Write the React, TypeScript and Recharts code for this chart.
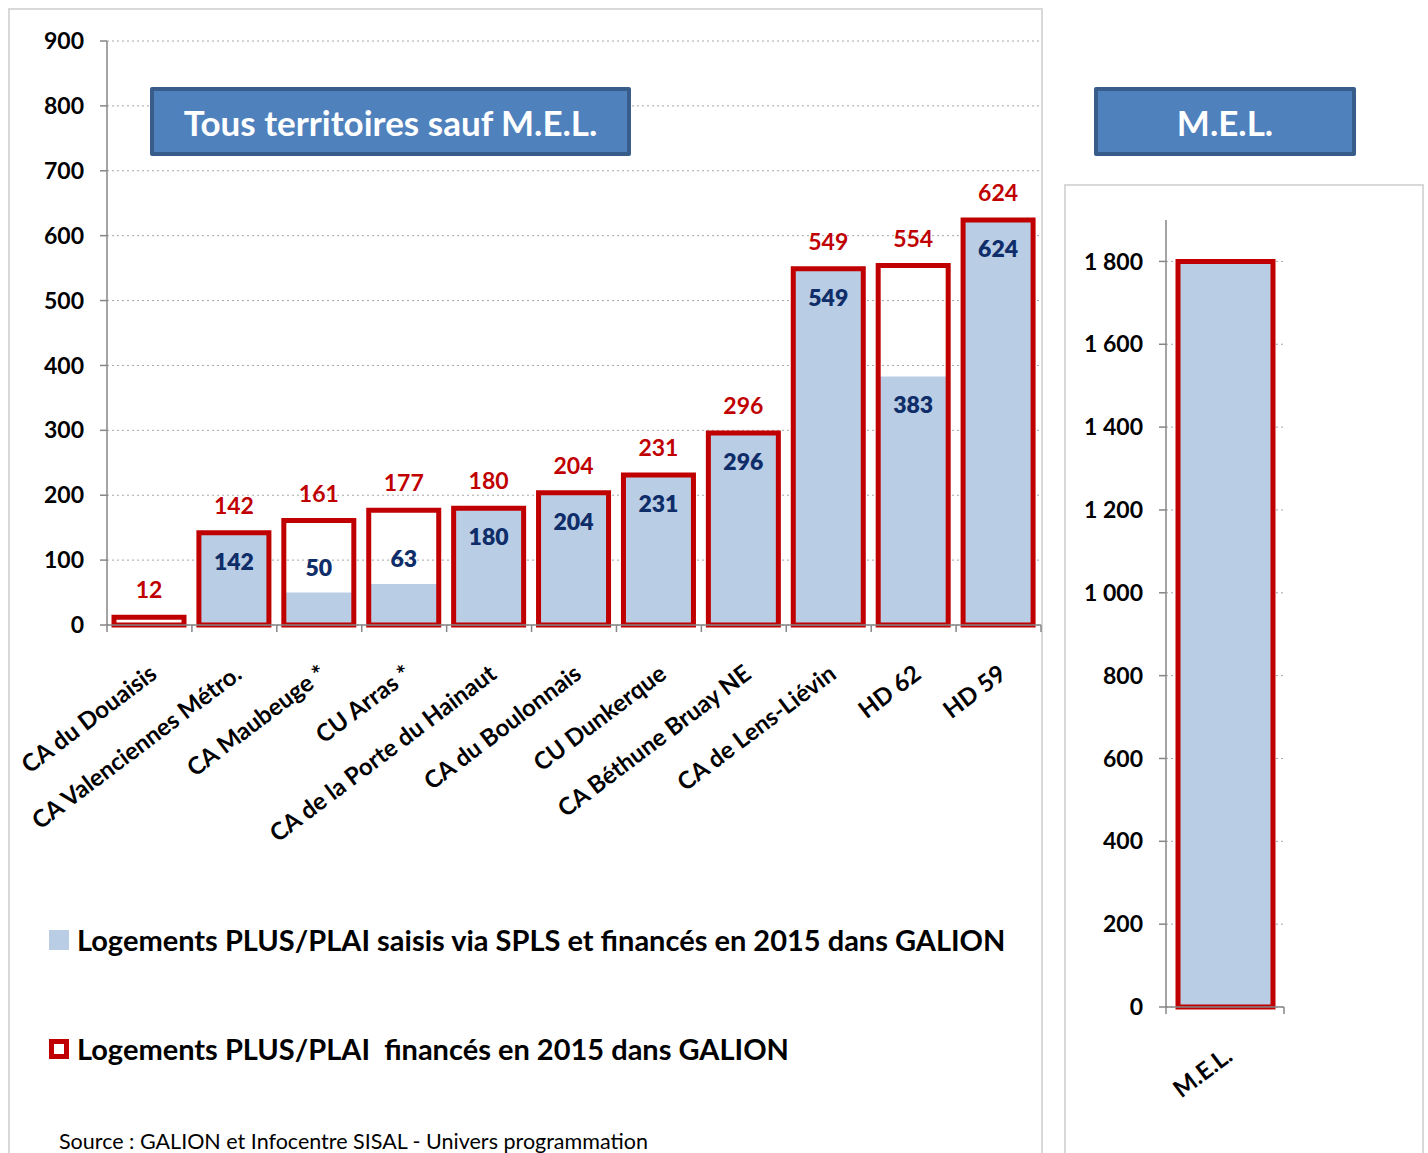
import React from "react";
import { BarChart, Bar, XAxis, YAxis, CartesianGrid, LabelList } from "recharts";

const categories = [
  "CA du Douaisis",
  "CA Valenciennes Métro.",
  "CA Maubeuge *",
  "CU Arras *",
  "CA de la Porte du Hainaut",
  "CA du Boulonnais",
  "CU Dunkerque",
  "CA Béthune Bruay NE",
  "CA de Lens-Liévin",
  "HD 62",
  "HD 59",
];
const financed = [12, 142, 161, 177, 180, 204, 231, 296, 549, 554, 624];
const viaSpls: (number | null)[] = [null, 142, 50, 63, 180, 204, 231, 296, 549, 383, 624];
const leftTicks = [0, 100, 200, 300, 400, 500, 600, 700, 800, 900];

const melCategories = ["M.E.L."];
const melFinanced = [1800];
const melSpls = [1800];
const rightTicks = [0, 200, 400, 600, 800, 1000, 1200, 1400, 1600, 1800];

const legendSpls = "Logements PLUS/PLAI saisis via SPLS et financés en 2015 dans GALION";
const legendFin = "Logements PLUS/PLAI  financés en 2015 dans GALION";
const sourceText = "Source : GALION et Infocentre SISAL - Univers programmation";

const leftData = categories.map((c, i) => ({ name: c, total: financed[i], spls: viaSpls[i] }));
const rightData = melCategories.map((c, i) => ({ name: c, total: melFinanced[i], spls: melSpls[i] }));

const FONT = "Lato, 'Open Sans', sans-serif";
const RED = "#C00000";
const BLUE = "#B9CDE5";
const NAVY = "#0F2D69";
const AXIS = "#868686";

const fmt = (v: number) => String(v).replace(/\B(?=(\d{3})+(?!\d))/g, " ");

const CatTick = (props: any) => {
  const { x, y, payload, index, visibleTicksCount } = props;
  const off = payload && payload.offset ? payload.offset : 42;
  const last = index === visibleTicksCount - 1;
  return (
    <g>
      <line x1={x - off} x2={x - off} y1={y} y2={y + 7} stroke={AXIS} strokeWidth={1.5} />
      {last && <line x1={x + off} x2={x + off} y1={y} y2={y + 7} stroke={AXIS} strokeWidth={1.5} />}
      <text
        x={x + 9}
        y={y + 52}
        transform={`rotate(-37, ${x + 9}, ${y + 52})`}
        textAnchor="end"
        fontFamily={FONT}
        fontWeight={700}
        fontSize={24}
        fill="#000"
      >
        {payload.value}
      </text>
    </g>
  );
};

const SplsLabel = (props: any) => {
  const { x, y, width, height, value } = props;
  if (value == null) return null;
  const cx = x + width / 2;
  const cy = height < 60 ? y - 26 : y + 28;
  return (
    <text
      x={cx}
      y={cy}
      textAnchor="middle"
      dominantBaseline="central"
      fill={NAVY}
      fontFamily={FONT}
      fontWeight={800}
      fontSize={23}
    >
      {value}
    </text>
  );
};

const Box = ({ left, top, width, height, text }: any) => (
  <div
    style={{
      position: "absolute",
      left,
      top,
      width,
      height,
      boxSizing: "border-box",
      background: "#4F81BD",
      border: "4px solid #385D8A",
      borderRadius: 2,
      color: "#fff",
      fontFamily: FONT,
      fontWeight: 700,
      fontSize: 35,
      display: "flex",
      alignItems: "center",
      justifyContent: "center",
      zIndex: 3,
    }}
  >
    {text}
  </div>
);

export default function App() {
  return (
    <div
      style={{
        position: "absolute",
        left: 0,
        top: 0,
        width: 1428,
        height: 1153,
        background: "#fff",
        overflow: "hidden",
        fontFamily: FONT,
      }}
    >
      <div
        style={{
          position: "absolute",
          left: 8,
          top: 8,
          width: 1035,
          height: 1160,
          border: "2px solid #D9D9D9",
          boxSizing: "border-box",
        }}
      />
      <div
        style={{
          position: "absolute",
          left: 1064,
          top: 184,
          width: 360,
          height: 1000,
          border: "2px solid #D9D9D9",
          boxSizing: "border-box",
        }}
      />

      <div style={{ position: "absolute", left: 0, top: 0, zIndex: 2 }}>
        <BarChart
          width={1043}
          height={900}
          data={leftData}
          margin={{ top: 41, right: 2, left: 0, bottom: 0 }}
          barSize={70}
          barGap={-70}
        >
          <CartesianGrid vertical={false} stroke="#A6A6A6" strokeDasharray="2 3" syncWithTicks />
          <YAxis
            width={107}
            domain={[0, 900]}
            ticks={leftTicks}
            interval={0}
            axisLine={{ stroke: AXIS, strokeWidth: 1.5 }}
            tickLine={{ stroke: AXIS, strokeWidth: 1.5 }}
            tickSize={7}
            tickMargin={16}
            tick={{ fontFamily: FONT, fontWeight: 700, fontSize: 23, fill: "#000" }}
          />
          <XAxis
            dataKey="name"
            height={275}
            interval={0}
            tickLine={false}
            tickSize={0}
            tickMargin={0}
            axisLine={{ stroke: AXIS, strokeWidth: 1.5 }}
            tick={<CatTick />}
          />
          <Bar dataKey="spls" fill={BLUE} isAnimationActive={false}>
            <LabelList dataKey="spls" content={<SplsLabel />} />
          </Bar>
          <Bar dataKey="total" fill="none" stroke={RED} strokeWidth={5} isAnimationActive={false}>
            <LabelList
              dataKey="total"
              position="top"
              offset={19}
              fill={RED}
              fontFamily={FONT}
              fontWeight={700}
              fontSize={23}
            />
          </Bar>
        </BarChart>
      </div>

      <div style={{ position: "absolute", left: 1064, top: 184, zIndex: 2 }}>
        <BarChart
          width={222}
          height={969}
          data={rightData}
          margin={{ top: 36, right: 2, left: 0, bottom: 0 }}
          barSize={95}
          barGap={-95}
        >
          <CartesianGrid vertical={false} stroke="#A6A6A6" strokeDasharray="2 3" syncWithTicks />
          <YAxis
            width={102}
            domain={[0, 1900]}
            ticks={rightTicks}
            interval={0}
            axisLine={{ stroke: AXIS, strokeWidth: 1.5 }}
            tickLine={{ stroke: AXIS, strokeWidth: 1.5 }}
            tickSize={7}
            tickMargin={16}
            tickFormatter={fmt}
            tick={{ fontFamily: FONT, fontWeight: 700, fontSize: 23, fill: "#000" }}
          />
          <XAxis
            dataKey="name"
            height={146}
            interval={0}
            tickLine={false}
            tickSize={0}
            tickMargin={0}
            axisLine={{ stroke: AXIS, strokeWidth: 1.5 }}
            tick={<CatTick />}
          />
          <Bar dataKey="spls" fill={BLUE} isAnimationActive={false} />
          <Bar dataKey="total" fill="none" stroke={RED} strokeWidth={5} isAnimationActive={false} />
        </BarChart>
      </div>

      <Box left={150} top={87} width={481} height={69} text="Tous territoires sauf M.E.L." />
      <Box left={1094} top={87} width={262} height={69} text="M.E.L." />

      <div style={{ position: "absolute", left: 49, top: 922, display: "flex", alignItems: "center", zIndex: 3 }}>
        <div style={{ width: 20, height: 20, background: BLUE, marginRight: 8 }} />
        <span style={{ fontFamily: FONT, fontWeight: 700, fontSize: 29, color: "#000" }}>{legendSpls}</span>
      </div>
      <div style={{ position: "absolute", left: 49, top: 1031, display: "flex", alignItems: "center", zIndex: 3 }}>
        <div
          style={{
            width: 20,
            height: 20,
            boxSizing: "border-box",
            border: `5px solid ${RED}`,
            background: "#fff",
            marginRight: 8,
          }}
        />
        <span style={{ fontFamily: FONT, fontWeight: 700, fontSize: 29, color: "#000", whiteSpace: "pre" }}>
          {legendFin}
        </span>
      </div>
      <div
        style={{
          position: "absolute",
          left: 59,
          top: 1128,
          fontFamily: FONT,
          fontSize: 21.5,
          color: "#000",
          zIndex: 3,
        }}
      >
        {sourceText}
      </div>
    </div>
  );
}
